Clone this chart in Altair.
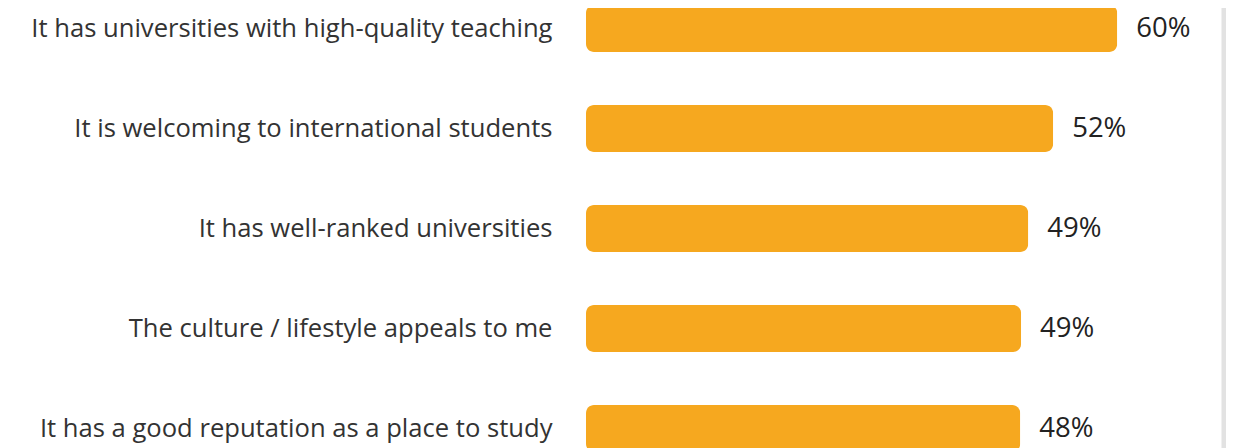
import altair as alt
import pandas as pd

categories = [
    "It has universities with high-quality teaching",
    "It is welcoming to international students",
    "It has well-ranked universities",
    "The culture / lifestyle appeals to me",
    "It has a good reputation as a place to study",
]
values = [59.7, 52.5, 49.7, 48.9, 48.8]
labels = ["60%", "52%", "49%", "49%", "48%"]
x_max = 71.7

df = pd.DataFrame({"reason": categories, "value": values, "label": labels})

y_enc = alt.Y(
    "reason:N",
    sort=categories,
    scale=alt.Scale(range=[-29.5, 470.5], paddingInner=0.53, paddingOuter=0.265),
    axis=alt.Axis(
        title=None,
        domain=False,
        ticks=False,
        labelPadding=34,
        labelFontSize=25.6,
        labelFont="Open Sans",
        labelColor="#333333",
        labelLimit=700,
    ),
)
x_enc = alt.X("value:Q", scale=alt.Scale(domain=[0, x_max]), axis=None)

bars = alt.Chart(df).mark_bar(
    color="#F6A81F", cornerRadius=8, orient="horizontal"
).encode(x=x_enc, y=y_enc)

text = alt.Chart(df).mark_text(
    align="left", baseline="middle", dx=19, fontSize=27.5, font="Open Sans", color="#222222"
).encode(x=x_enc, y=alt.Y("reason:N", sort=categories), text="label:N")

edge = alt.Chart(pd.DataFrame({"edge": [x_max]})).mark_rule(
    color="#e2e2e2", strokeWidth=5
).encode(x=alt.X("edge:Q", scale=alt.Scale(domain=[0, x_max])))

chart = (
    alt.layer(bars, text, edge)
    .properties(
        width=638,
        height=440,
        autosize=alt.AutoSizeParams(type="none"),
        padding={"left": 578, "top": 0, "right": 2, "bottom": 0},
    )
    .configure_view(stroke=None)
)

chart.save("out.html", embed_options={"renderer": "svg", "actions": False})
